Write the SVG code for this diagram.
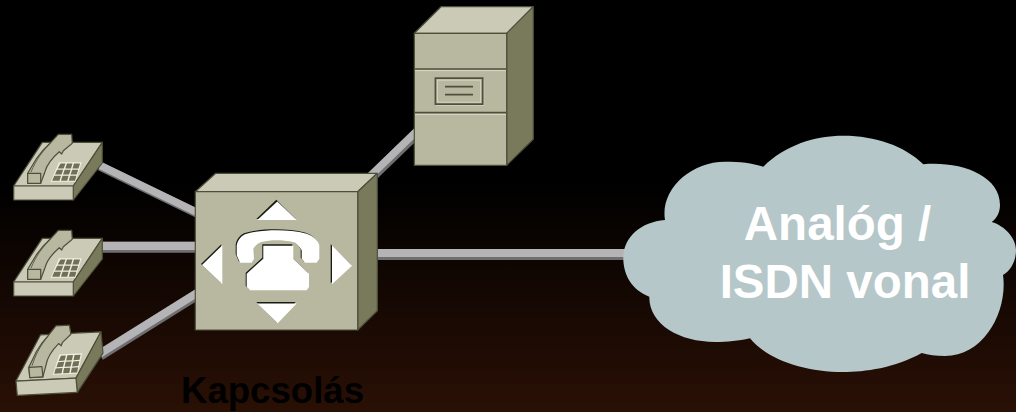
<svg xmlns="http://www.w3.org/2000/svg" xmlns:xlink="http://www.w3.org/1999/xlink" width="1016" height="412" viewBox="0 0 1016 412">
<style>
.front{fill:#b8b8a0;stroke:#4e4f3a;stroke-width:1.2;stroke-linejoin:round}
.top{fill:#cacab6;stroke:#4e4f3a;stroke-width:1.2;stroke-linejoin:round}
.side{fill:#797a5c;stroke:#4e4f3a;stroke-width:1.2;stroke-linejoin:round}
.wd{stroke:#6f6f72;fill:none}
.wl{stroke:#b4b4b7;fill:none}
.ic{fill:#fff}
.sh{fill:#1a1a10}
.t{font-family:"Liberation Sans",Arial,sans-serif;font-weight:bold}
</style>
<defs>
<linearGradient id="bg" x1="0" y1="0" x2="0" y2="1">
<stop offset="0" stop-color="#000"/><stop offset="0.45" stop-color="#000"/><stop offset="1" stop-color="#2a1005"/>
</linearGradient>
<g id="phone">
<polygon class="top" points="42.3,142.3 102.3,142.3 73.3,186 13.7,186"/>
<polygon class="side" points="102.3,142.3 102.3,163 73.3,200 73.3,186"/>
<rect class="top" x="13.7" y="186" width="59.6" height="14"/>
<path class="front" d="M58.3,134.3 H71.7 L72.3,143.3 L63.3,150.7 L61.7,154 L59.3,151.7 C52,158 47,164 45,171.7 L40.7,183.3 H27.7 V173.3 L36.7,158.3 C41,152 46,147 50,143.3 Z"/>
<path d="M50,143.5 C42,152 36,160 31,172" fill="none" stroke="#4e4f3a" stroke-width="0.8"/>
<rect class="front" x="27.7" y="173.3" width="13" height="10"/>
<polygon points="59,162.3 81.7,162.3 75.5,181.7 50.7,181.7" fill="#efefe2"/>
<g fill="#6f7055">
<polygon points="60.5,163.5 65.5,163.5 63.7,168.5 57.7,168.5"/><polygon points="67,163.5 72.5,163.5 71,168.5 65.2,168.5"/><polygon points="74,163.5 80,163.5 78.5,168.5 72.5,168.5"/>
<polygon points="57.2,169.7 63.2,169.7 61.5,174.5 55,174.5"/><polygon points="64.7,169.7 70.7,169.7 69,174.5 63,174.5"/><polygon points="72.2,169.7 78.2,169.7 76.7,174.5 70.5,174.5"/>
<polygon points="54.2,175.7 61,175.7 59.5,180.7 52.2,180.7"/><polygon points="62.5,175.7 68.6,175.7 67.2,180.7 61,180.7"/><polygon points="70.2,175.7 76.4,175.7 75,180.7 68.7,180.7"/>
</g>
</g>
</defs>
<rect width="1016" height="412" fill="url(#bg)"/>
<g id="connectors">
<path class="wd" stroke-width="9" d="M100,166.2 L198,213.8"/><path class="wl" stroke-width="7.4" d="M100,165.3 L198,212.9"/>
<path class="wd" stroke-width="11" d="M100,247.2 H198"/><path class="wl" stroke-width="8.4" d="M100,245.9 H198"/>
<path class="wd" stroke-width="10.8" d="M100,355.2 L198,294"/><path class="wl" stroke-width="8" d="M100,353.6 L198,292.4"/>
<path class="wd" stroke-width="10.5" d="M418,132 L358,190"/><path class="wl" stroke-width="7.5" d="M418,129.9 L358,187.9"/>
<path class="wd" stroke-width="11" d="M375,254.5 H630"/><path class="wl" stroke-width="8" d="M375,253 H630"/>
</g>
<g id="phone-1"><use xlink:href="#phone" href="#phone"/></g>
<g id="phone-2"><use xlink:href="#phone" href="#phone" y="96"/></g>
<g id="phone-3"><use xlink:href="#phone" href="#phone" transform="matrix(1.007 -0.05 0.096 1.026 -15.7 190.9)"/></g>
<g id="server">
<polygon class="top" points="414.3,33.3 441,6.7 533.3,6.7 506.7,33.3"/>
<polygon class="side" points="506.7,33.3 533.3,6.7 533.3,139.3 506.7,165.3"/>
<rect class="front" x="414.3" y="33.3" width="92.4" height="132"/>
<path d="M415,69 H506" stroke="#4e4f3a" stroke-width="1.6"/><path d="M415,70.6 H506" stroke="#d8d8c8" stroke-width="1"/>
<path d="M415,112.6 H506" stroke="#4e4f3a" stroke-width="1.8"/><path d="M415,114.4 H506" stroke="#d8d8c8" stroke-width="1"/>
<rect x="436" y="78.8" width="47.6" height="26.4" fill="none" stroke="#e8e8dc" stroke-width="1"/>
<rect x="435.5" y="78.2" width="47.2" height="26" fill="none" stroke="#4e4f3a" stroke-width="1.8"/>
<rect x="437.6" y="80.2" width="43" height="22" fill="none" stroke="#d8d8c8" stroke-width="0.8"/>
<path d="M445,86.6 H473 M445,94.6 H473" stroke="#4e4f3a" stroke-width="1.7"/>
</g>
<g id="switch">
<polygon class="top" points="195.3,191.7 215.7,173.3 377.3,173.3 357.7,191.7"/>
<polygon class="side" points="357.7,191.7 377.3,173.3 377.3,310.7 357.7,330"/>
<rect class="front" x="195.3" y="191.7" width="162.4" height="138.3"/>
<g transform="translate(-1,-1)" class="sh">
<polygon points="277.3,200.7 296.7,220 257.3,220"/><polygon points="257.3,303 296.7,303 277.7,323.3"/>
<polygon points="222.3,245.3 222.3,284.3 202,265"/><polygon points="331.7,245.3 331.7,284.3 352,265.7"/>
<path d="M263.3,245.3 H293.3 V258.7 L309,273.7 V287 L306.7,290.3 H250 L246.7,287 V273.7 L263.3,258.7 Z"/>
<path d="M236.7,255.3 V245.3 C238,239 242,235 246.7,233.7 C257,231 267,230.3 276.7,230.3 C287,230.3 297,231 306.7,233.7 C313,236 318,240 319.3,245.3 V258.7 L316.7,262.7 H305 L301.7,258.7 V250.3 C299,246 296,243 293.3,242 C288,240.8 282,240.3 276.7,240.3 C271,240.3 266,240.8 261.7,242 C257,243.5 255,246 253.3,248.7 L254,258.7 L251.7,262.7 H240 Z"/>
</g>
<g class="ic">
<polygon points="277.3,201.5 296.7,220 257.3,220"/><polygon points="257.3,303.5 296.7,303.5 277.7,323.3"/>
<polygon points="222.3,245.3 222.3,284.3 202,265"/><polygon points="332,245.3 332,284.3 352,265.7"/>
<path d="M263.3,245.8 H293.3 V258.7 L309,273.7 V287 L306.7,290.3 H250 L246.7,287 V273.7 L263.3,258.7 Z"/>
<path d="M236.7,255.3 V245.3 C238,239 242,235 246.7,233.7 C257,231 267,230.3 276.7,230.3 C287,230.3 297,231 306.7,233.7 C313,236 318,240 319.3,245.3 V258.7 L316.7,262.7 H305 L301.7,258.7 V250.3 C299,246 296,243 293.3,242 C288,240.8 282,240.3 276.7,240.3 C271,240.3 266,240.8 261.7,242 C257,243.5 255,246 253.3,248.7 L254,258.7 L251.7,262.7 H240 Z"/>
</g>
</g>
<g id="cloud">
<path fill="#b5c7c9" d="M763.3,166.7 C785,145 815,135.7 843.3,135.7 C875,135.7 905,146 923.3,164.3 C960,161 1000,175 1000,205 C1000,212 997,218 991.7,222 C1005,226 1016,238 1016,250 C1016,262 1010,271 1003,275 C1008,310 985,356 945,356 C936,356 928,355 921.7,353 C895,368 865,372 843,372 C805,372 768,360 750,338.3 C738,341 728,342 715,342 C680,342 649,325 649.3,296.7 C632,290 623.3,275 623.3,258 C623.3,238 640,222 665,220 C660,190 690,161.7 725,161.7 C740,161.7 752,163 763.3,166.7 Z"/>
<text class="t" x="837.5" y="240" text-anchor="middle" font-size="47.5" fill="#fff">Analóg /</text>
<text class="t" x="845" y="297.7" text-anchor="middle" font-size="47.5" fill="#fff">ISDN vonal</text>
</g>
<text id="switch-label" class="t" x="181" y="403" font-size="36.6" fill="#000">Kapcsolás</text>
</svg>
